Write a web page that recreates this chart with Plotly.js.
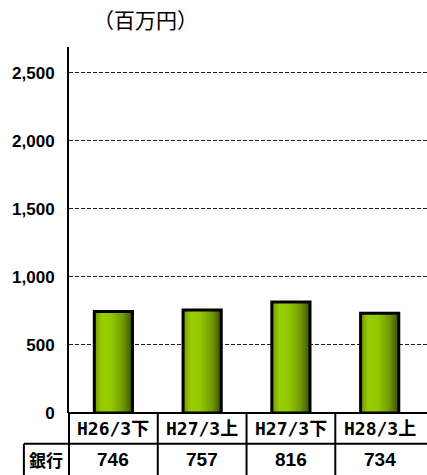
<!DOCTYPE html>
<html><head><meta charset="utf-8">
<script src="https://cdn.plot.ly/plotly-3.0.1.min.js"></script>
<style>html,body{margin:0;padding:0;background:#fff;}</style>
</head><body>
<div id="chart" style="width:427px;height:475px;"></div>
<script>
const categories = ["H26/3下", "H27/3上", "H27/3下", "H28/3上"];
const values = [746, 757, 816, 734];
const rowLabel = "銀行";
const yTicks = [0, 500, 1000, 1500, 2000, 2500];
const yTickText = ["0", "500", "1,000", "1,500", "2,000", "2,500"];
const unitTitle = "（百万円）";

const xIdx = categories.map((c, i) => i);

const trace = {
  type: "bar",
  x: xIdx,
  y: values,
  width: 0.43,
  marker: { color: "#8cbf00", line: { color: "#000", width: 3 } },
  hoverinfo: "skip"
};

const annotations = [];
categories.forEach((c, i) => {
  annotations.push({ xref: "x", yref: "paper", x: i, y: -0.042, text: c, showarrow: false,
    font: { family: "DejaVu Sans Mono, Noto Sans CJK JP", size: 18, color: "#000", weight: "bold" },
    xanchor: "center", yanchor: "middle" });
  annotations.push({ xref: "x", yref: "paper", x: i, y: -0.128, text: String(values[i]), showarrow: false,
    font: { family: "Liberation Sans, Arial", size: 19, color: "#000", weight: "bold" },
    xanchor: "center", yanchor: "middle" });
});
annotations.push({ xref: "paper", yref: "paper", x: -0.063, y: -0.128, text: rowLabel, showarrow: false,
  font: { family: "Noto Sans CJK JP", size: 17, color: "#000", weight: "bold" },
  xanchor: "center", yanchor: "middle" });
annotations.push({ xref: "paper", yref: "paper", x: (145 - 69) / 358, y: (413 - 19) / 366, text: unitTitle, showarrow: false,
  font: { family: "Noto Sans CJK JP", size: 21, color: "#000" },
  xanchor: "center", yanchor: "middle" });

const lineStyle = { color: "#000", width: 2 };
const shapes = [
  { type: "line", xref: "paper", yref: "paper", x0: 0, x1: 1.02, y0: 0, y1: 0, line: lineStyle },
  { type: "line", xref: "paper", yref: "paper", x0: -0.126, x1: 1.02, y0: -0.084, y1: -0.084, line: lineStyle },
  { type: "line", xref: "paper", yref: "paper", x0: -0.126, x1: 1.02, y0: -0.175, y1: -0.175, line: lineStyle },
  { type: "line", xref: "paper", yref: "paper", x0: -0.126, x1: -0.126, y0: -0.084, y1: -0.2, line: lineStyle },
  { type: "line", xref: "paper", yref: "paper", x0: 0, x1: 0, y0: 0, y1: -0.2, line: lineStyle }
];
for (let i = 0; i < categories.length - 1; i++) {
  shapes.push({ type: "line", xref: "x", yref: "paper", x0: i + 0.5, x1: i + 0.5, y0: 0, y1: -0.2, line: lineStyle });
}

const layout = {
  width: 427, height: 475,
  margin: { l: 69, r: 0, t: 47, b: 62 },
  paper_bgcolor: "#fff", plot_bgcolor: "#fff",
  showlegend: false,
  xaxis: { range: [-0.5, 3.533], showticklabels: false, showgrid: false, zeroline: false, showline: false, ticks: "", fixedrange: true },
  yaxis: { range: [0, 2690], tickvals: yTicks, ticktext: yTickText, showline: true, linecolor: "#000", linewidth: 2,
    ticks: "", ticklabelstandoff: 9, showgrid: true, gridcolor: "#222", griddash: "4px,2px", gridwidth: 1,
    zeroline: false, tickfont: { family: "Liberation Sans, Arial", size: 17, color: "#000", weight: "bold" } },
  shapes: shapes,
  annotations: annotations
};

Plotly.newPlot("chart", [trace], layout, { staticPlot: true, displayModeBar: false }).then(gd => {
  const svg = gd.querySelector("svg.main-svg");
  const ns = "http://www.w3.org/2000/svg";
  let defs = svg.querySelector("defs");
  if (!defs) { defs = document.createElementNS(ns, "defs"); svg.insertBefore(defs, svg.firstChild); }
  const g = document.createElementNS(ns, "linearGradient");
  g.setAttribute("id", "barGrad");
  g.setAttribute("x1", "0"); g.setAttribute("y1", "0"); g.setAttribute("x2", "1"); g.setAttribute("y2", "0");
  [[0, "#6f9400"], [0.2, "#9acd00"], [0.45, "#94c800"], [0.75, "#729a00"], [1, "#3b5000"]].forEach(s => {
    const st = document.createElementNS(ns, "stop");
    st.setAttribute("offset", s[0]); st.setAttribute("stop-color", s[1]);
    g.appendChild(st);
  });
  defs.appendChild(g);
  gd.querySelectorAll("g.trace.bars path").forEach(p => { p.style.fill = "url(#barGrad)"; });
});
</script>
</body></html>
